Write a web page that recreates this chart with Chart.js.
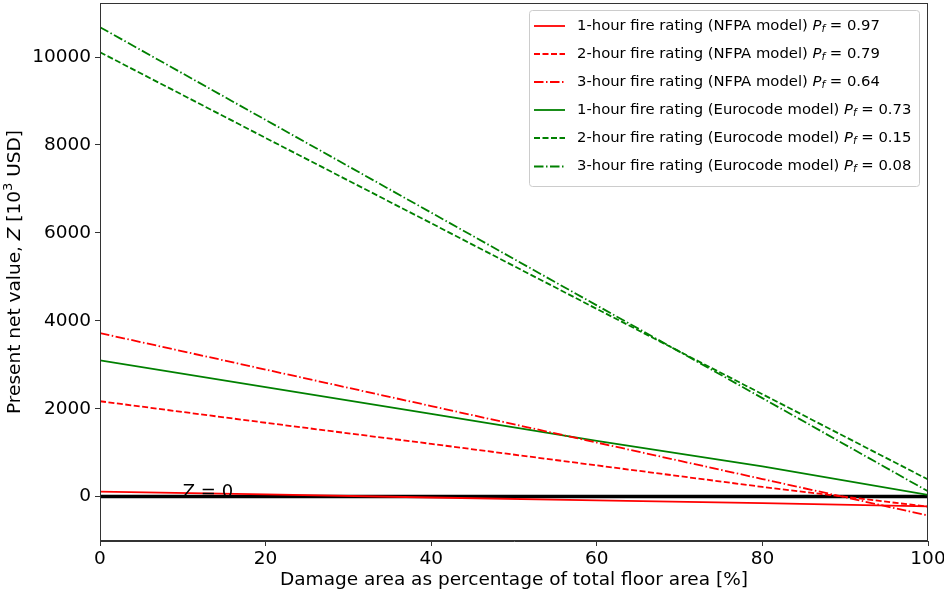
<!DOCTYPE html>
<html>
<head>
<meta charset="utf-8">
<script src="https://cdn.jsdelivr.net/npm/chart.js@4.4.1/dist/chart.umd.min.js"></script>
<style>
  html, body { margin: 0; padding: 0; background: #fff; }
  #wrap { width: 944px; height: 592px; }
</style>
</head>
<body>
<div id="wrap"><canvas id="npvChart" width="944" height="592"></canvas></div>
<script>
// damage area (% of floor area) and present net value Z [10^3 USD]
const damagePct = [0, 20, 40, 60, 80, 100];
const nfpa1h = [115, 50, -20, -85, -150, -220];
const nfpa2h = [2170, 1680, 1200, 710, 220, -230];
const nfpa3h = [3720, 2890, 2060, 1230, 400, -430];
const euro1h = [3100, 2490, 1880, 1270, 690, 40];
const euro2h = [10110, 8160, 6220, 4270, 2330, 390];
const euro3h = [10680, 8570, 6460, 4350, 2240, 120];
const zeroLine = [0, 0, 0, 0, 0, 0];

const seriesNames = [
    '1-hour fire rating (NFPA model)',
    '2-hour fire rating (NFPA model)',
    '3-hour fire rating (NFPA model)',
    '1-hour fire rating (Eurocode model)',
    '2-hour fire rating (Eurocode model)',
    '3-hour fire rating (Eurocode model)'
];
const failureProb = ['0.97', '0.79', '0.64', '0.73', '0.15', '0.08'];
const xTicks = [0, 20, 40, 60, 80, 100];
const yTicks = [0, 2000, 4000, 6000, 8000, 10000];

const RED = '#ff0000';
const GREEN = '#008000';
const DASH = [6, 2.5];
const DASHDOT = [9.5, 2.5, 1.5, 2.5];
const FONT = '"DejaVu Sans", sans-serif';
const AXIS_SIZE = 18.5;

function toPoints(values) {
    return damagePct.map((x, i) => ({ x: x, y: values[i] }));
}

function lineSet(label, values, color, dash) {
    return {
        label: label,
        data: toPoints(values),
        borderColor: color,
        backgroundColor: color,
        borderWidth: 1.8,
        borderDash: dash,
        pointRadius: 0,
        tension: 0,
        fill: false
    };
}

const datasets = [
    lineSet(seriesNames[0], nfpa1h, RED, []),
    lineSet(seriesNames[1], nfpa2h, RED, DASH),
    lineSet(seriesNames[2], nfpa3h, RED, DASHDOT),
    lineSet(seriesNames[3], euro1h, GREEN, []),
    lineSet(seriesNames[4], euro2h, GREEN, DASH),
    lineSet(seriesNames[5], euro3h, GREEN, DASHDOT)
];
// Z = 0 reference line
datasets.push({
    label: 'Z = 0',
    data: toPoints(zeroLine),
    borderColor: '#000',
    borderWidth: 3.5,
    pointRadius: 0,
    order: 10
});

/**
 * Draws the parts that matplotlib had and Chart.js does not:
 * the full frame, the inner legend, the mixed-style y title and the Z = 0 label.
 */
const extras = {
    id: 'extras',
    afterDatasetsDraw(chart) {
        const ctx = chart.ctx;
        const a = chart.chartArea;
        const xs = chart.scales.x;
        const ys = chart.scales.y;

        // frame
        ctx.save();
        ctx.strokeStyle = '#333';
        ctx.lineWidth = 1;
        ctx.strokeRect(a.left + 0.5, a.top + 0.5, a.right - a.left - 1, a.bottom - a.top - 1);

        // Z = 0 label
        ctx.fillStyle = '#000';
        ctx.font = '18px ' + FONT;
        ctx.textBaseline = 'alphabetic';
        ctx.textAlign = 'left';
        ctx.fillText('Z = 0', xs.getPixelForValue(10), ys.getPixelForValue(0));
        ctx.restore();
    },
    afterDraw(chart) {
        const ctx = chart.ctx;
        const a = chart.chartArea;

        // y axis title: Present net value, Z [10^3 USD]
        ctx.save();
        ctx.translate(15, (a.top + a.bottom) / 2);
        ctx.rotate(-Math.PI / 2);
        ctx.fillStyle = '#000';
        ctx.textBaseline = 'middle';
        ctx.textAlign = 'left';
        const parts = [
            ['Present net value, ', AXIS_SIZE + 'px ' + FONT, 0],
            ['Z', 'italic ' + AXIS_SIZE + 'px ' + FONT, 0],
            [' [10', AXIS_SIZE + 'px ' + FONT, 0],
            ['3', '13px ' + FONT, -6],
            [' USD]', AXIS_SIZE + 'px ' + FONT, 0]
        ];
        let total = 0;
        parts.forEach(p => { ctx.font = p[1]; total += ctx.measureText(p[0]).width; });
        let cx = -total / 2;
        parts.forEach(p => {
            ctx.font = p[1];
            ctx.fillText(p[0], cx, p[2]);
            cx += ctx.measureText(p[0]).width;
        });
        ctx.restore();

        // legend box
        const box = { x: 529, y: 10, w: 390, h: 176 };
        ctx.save();
        ctx.beginPath();
        ctx.roundRect(box.x + 0.5, box.y + 0.5, box.w, box.h, 3);
        ctx.fillStyle = 'rgba(255,255,255,0.8)';
        ctx.fill();
        ctx.strokeStyle = '#cccccc';
        ctx.lineWidth = 1;
        ctx.stroke();

        const rowY = [26, 54, 82, 110, 138, 166.5];
        for (let i = 0; i < 6; i++) {
            const ds = chart.data.datasets[i];
            const y = rowY[i];
            ctx.beginPath();
            ctx.setLineDash(ds.borderDash);
            ctx.strokeStyle = ds.borderColor;
            ctx.lineWidth = 1.8;
            ctx.moveTo(534, y);
            ctx.lineTo(565, y);
            ctx.stroke();
            ctx.setLineDash([]);

            ctx.fillStyle = '#000';
            ctx.textBaseline = 'middle';
            let tx = 577;
            ctx.font = '14.8px ' + FONT;
            ctx.fillText(seriesNames[i] + ' ', tx, y);
            tx += ctx.measureText(seriesNames[i] + ' ').width;
            ctx.font = 'italic 14.8px ' + FONT;
            ctx.fillText('P', tx, y);
            tx += ctx.measureText('P').width;
            ctx.font = 'italic 10.5px ' + FONT;
            ctx.fillText('f', tx, y + 3);
            tx += ctx.measureText('f').width;
            ctx.font = '14.8px ' + FONT;
            ctx.fillText(' = ' + failureProb[i], tx, y);
        }
        ctx.restore();
    }
};

const chart = new Chart(document.getElementById('npvChart'), {
    type: 'line',
    data: { datasets: datasets },
    options: {
        responsive: false,
        devicePixelRatio: 1,
        animation: false,
        layout: { padding: { left: 0, top: 3, right: 16, bottom: 0 } },
        plugins: {
            legend: { display: false },
            tooltip: { enabled: false }
        },
        scales: {
            x: {
                type: 'linear',
                min: 0,
                max: 100,
                afterBuildTicks: (scale) => { scale.ticks = xTicks.map(v => ({ value: v })); },
                afterFit: (scale) => {
                    scale.height = 51;
                    scale.paddingLeft = 0;
                    scale.paddingRight = 0;
                },
                ticks: { color: '#000', font: { family: FONT, size: AXIS_SIZE }, padding: 2, maxRotation: 0 },
                grid: { drawOnChartArea: false, drawTicks: true, tickLength: 5, color: '#333' },
                border: { display: true, color: '#333' },
                title: {
                    display: true,
                    text: 'Damage area as percentage of total floor area [%]',
                    color: '#000',
                    font: { family: FONT, size: AXIS_SIZE },
                    padding: { top: 0, bottom: 1 }
                }
            },
            y: {
                type: 'linear',
                min: -1010,
                max: 11230,
                afterBuildTicks: (scale) => { scale.ticks = yTicks.map(v => ({ value: v })); },
                afterFit: (scale) => {
                    scale.width = 100;
                    scale.paddingTop = 0;
                    scale.paddingBottom = 0;
                },
                ticks: {
                    color: '#000',
                    font: { family: FONT, size: AXIS_SIZE },
                    padding: 4,
                    callback: (v) => String(v)
                },
                grid: { drawOnChartArea: false, drawTicks: true, tickLength: 5, color: '#333' },
                border: { display: true, color: '#333' }
            }
        }
    },
    plugins: [extras]
});
</script>
</body>
</html>
